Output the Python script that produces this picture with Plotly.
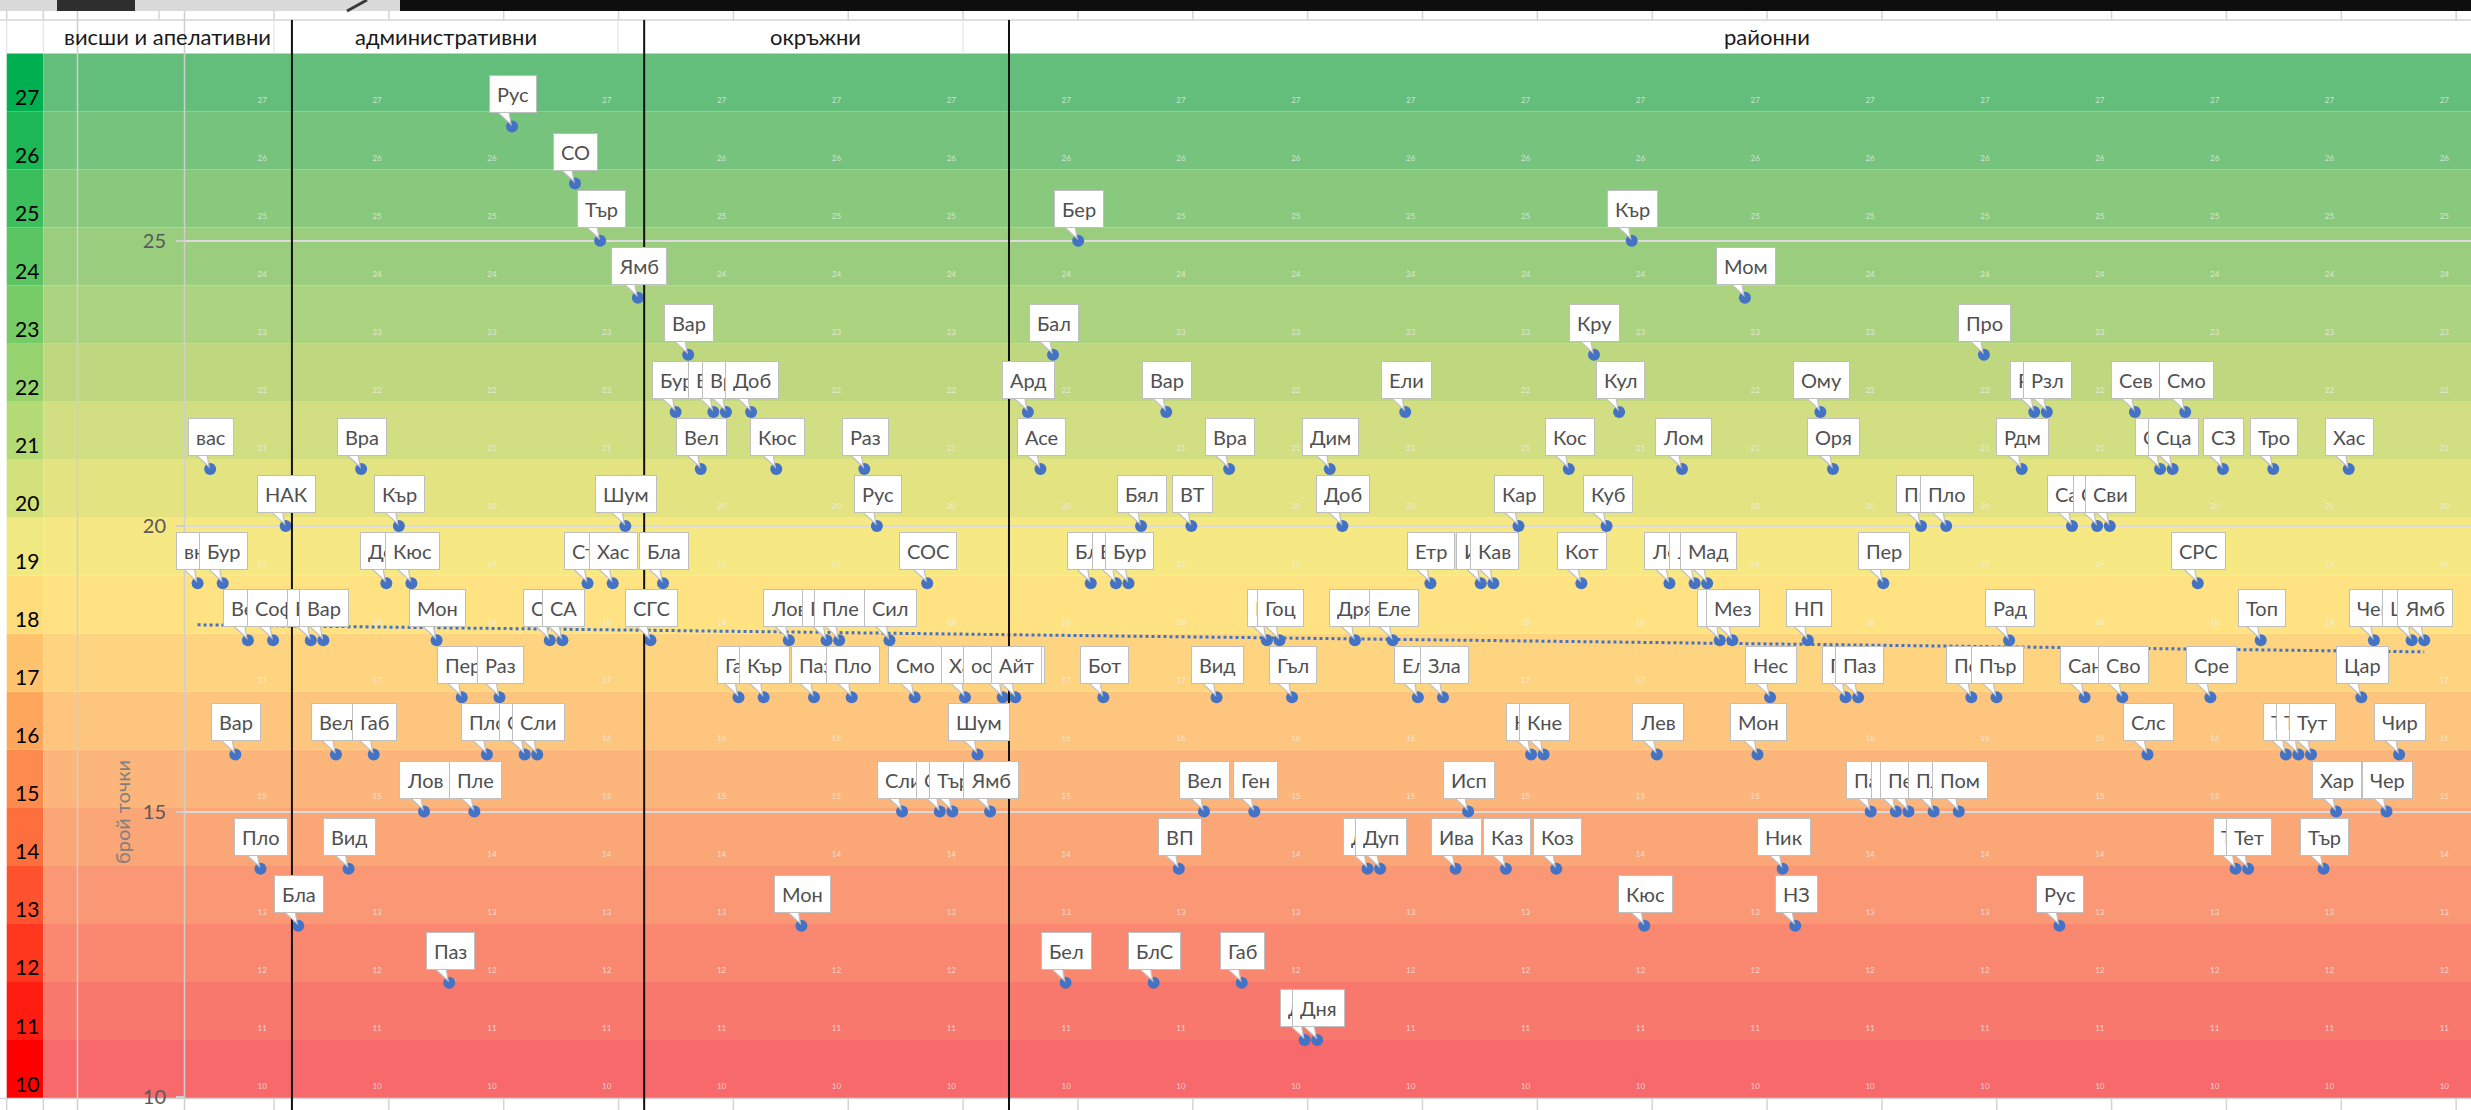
import numpy as np
import plotly.graph_objects as go

# ---------------- DATA ----------------
category_names = ["висши и апелативни", "административни", "окръжни", "районни"]

supreme_labels = ["вкс", "вас", "Бур", "Вар", "Вел", "Пло", "Соф", "НАК"]
supreme_values = [19, 21, 19, 16, 18, 14, 18, 20]

admin_labels = ["Бла", "Бур", "Вар", "Вел", "Вид", "Вра", "Габ", "Доб", "Кър", "Кюс",
                "Лов", "Мон", "Паз", "Пер", "Пле", "Пло", "Раз", "Рус", "Сил", "Сли",
                "Смо", "СА", "СО", "Ста", "Тър", "Хас", "Шум", "Ямб"]
admin_values = [13, 18, 18, 16, 14, 21, 16, 19, 20, 19,
                15, 18, 12, 17, 15, 16, 17, 27, 16, 16,
                18, 18, 26, 19, 25, 19, 20, 24]

district_labels = ["СГС", "Бла", "Бур", "Вар", "Вел", "Вид", "Вра", "Габ", "Доб", "Кър",
                   "Кюс", "Лов", "Мон", "Паз", "Пер", "Пле", "Пло", "Раз", "Рус", "Сил",
                   "Сли", "Смо", "СОС", "Ста", "Тър", "Хас", "Шум", "Ямб", "ос"]
district_values = [18, 19, 22, 23, 21, 22, 22, 17, 22, 17,
                   21, 18, 13, 17, 18, 18, 17, 21, 20, 18,
                   15, 17, 19, 15, 15, 17, 16, 15, 17]

regional_labels = ["Айт", "Ард", "Асе", "Бал", "Бел", "Бер", "Бла", "Бот", "Бре", "Бур",
                   "Бял", "БлС", "Вар", "ВП", "ВТ", "Вел", "Вид", "Вра", "Габ", "Ген",
                   "ГО", "Гоц", "Гъл", "Дев", "Дня", "Дим", "Доб", "Дря", "Дул", "Дуп",
                   "Еле", "Ели", "Елх", "Етр", "Зла", "Ива", "Исп", "Ихт", "Кав", "Каз",
                   "Кар", "Крн", "Кне", "Коз", "Кос", "Кот", "Кру", "Куб", "Кул", "Кър",
                   "Кюс", "Лев", "Лов", "Лом", "Лук", "Мад", "МТ", "Мез", "Мом", "Мон",
                   "Нес", "Ник", "НЗ", "НП", "Ому", "Оря", "Пав", "Паз", "Пан", "Пер",
                   "Пет", "Пещ", "Пир", "Пле", "Пло", "Пом", "Поп", "Про", "Пър", "Рад",
                   "Рдм", "Рдн", "Рзл", "Рус", "Сам", "Сан", "Свл", "Сви", "Сво", "Сев",
                   "Слс", "Сли", "Сца", "Смо", "СРС", "Сре", "СЗ", "Тер", "Тет", "Топ",
                   "Тро", "Трн", "Трв", "Тут", "Тър", "Хар", "Хас", "Цар", "Чеп", "Чер",
                   "Чир", "Шум", "Ямб"]
regional_values = [17, 22, 21, 23, 12, 25, 19, 17, 19, 19,
                   20, 12, 22, 14, 20, 15, 17, 21, 12, 15,
                   18, 18, 17, 11, 11, 21, 20, 18, 14, 14,
                   18, 22, 17, 19, 17, 14, 15, 19, 19, 14,
                   20, 16, 16, 14, 21, 19, 23, 20, 22, 25,
                   13, 16, 19, 21, 19, 19, 18, 18, 24, 16,
                   17, 14, 13, 18, 22, 21, 17, 17, 15, 19,
                   15, 15, 20, 15, 20, 15, 17, 23, 17, 18,
                   21, 22, 22, 13, 20, 17, 20, 20, 17, 22,
                   16, 21, 21, 22, 19, 17, 21, 14, 14, 18,
                   21, 16, 16, 16, 14, 15, 21, 17, 18, 15,
                   16, 18, 18]

band_levels = list(range(10, 28))
y_tick_values = [10, 15, 20, 25]
axis_title = "брой точки"

# ---------------- GEOMETRY / STYLE ----------------
W, H = 2471, 1110
ML, MR, MT, MB = 185, 0, 54, 13
PW, PH = W - ML - MR, H - MT - MB
X_STEP = 12.58          # px per point index
Y_UNIT = 57.09          # px per score point
X_RANGE = [-1, -1 + PW / X_STEP]
Y_RANGE = [10, 10 + PH / Y_UNIT]
ROW_TOP0, ROW_H = 53.5, 58.03

def pxx(px):
    return (px - ML) / PW

def pxy(py):
    return (H - MB - py) / PH

def data_to_px(xv, yv):
    return ML + (xv - X_RANGE[0]) * X_STEP, MT + (Y_RANGE[1] - yv) * Y_UNIT

def hex2rgb(h):
    h = h.lstrip("#")
    return tuple(int(h[i:i + 2], 16) for i in (0, 2, 4))

def lerp(c1, c2, t):
    a, b = hex2rgb(c1), hex2rgb(c2)
    return "rgb(%d,%d,%d)" % tuple(round(a[i] + (b[i] - a[i]) * t) for i in range(3))

def three_scale(v, cmin, cmid, cmax, vmin=10, vmax=27):
    mid = (vmin + vmax) / 2
    if v <= mid:
        return lerp(cmin, cmid, (v - vmin) / (mid - vmin))
    return lerp(cmid, cmax, (v - mid) / (vmax - mid))

def row_top(k):
    return ROW_TOP0 + (27 - k) * ROW_H

labels = supreme_labels + admin_labels + district_labels + regional_labels
values = supreme_values + admin_values + district_values + regional_values
xs = list(range(len(labels)))
counts = [len(supreme_labels), len(admin_labels), len(district_labels), len(regional_labels)]

shapes = []
annotations = []
GRID = "#D4D4D4"

# top strip (screenshot residue)
shapes.append(dict(type="rect", xref="paper", yref="paper", x0=pxx(0), x1=pxx(400),
                   y0=pxy(11), y1=pxy(0), fillcolor="#DADADA", line=dict(width=0), layer="below"))
shapes.append(dict(type="rect", xref="paper", yref="paper", x0=pxx(57), x1=pxx(135),
                   y0=pxy(11), y1=pxy(0), fillcolor="#2E2E2E", line=dict(width=0), layer="below"))
shapes.append(dict(type="line", xref="paper", yref="paper", x0=pxx(347), x1=pxx(367),
                   y0=pxy(11), y1=pxy(0), line=dict(color="#3A3A3A", width=3), layer="below"))
shapes.append(dict(type="rect", xref="paper", yref="paper", x0=pxx(400), x1=pxx(W),
                   y0=pxy(11), y1=pxy(0), fillcolor="#0E0E0E", line=dict(width=0), layer="below"))

# colour bands (Excel cells)
for k in band_levels:
    y0, y1 = pxy(row_top(k) + ROW_H), pxy(row_top(k))
    shapes.append(dict(type="rect", xref="paper", yref="paper", x0=pxx(6.7), x1=pxx(43.3),
                       y0=y0, y1=y1, line=dict(width=0), layer="below",
                       fillcolor=three_scale(k, "#FF0000", "#FFEB84", "#00B050")))
    shapes.append(dict(type="rect", xref="paper", yref="paper", x0=pxx(43.3), x1=pxx(W),
                       y0=y0, y1=y1, line=dict(width=0), layer="below",
                       fillcolor=three_scale(k, "#F8696B", "#FFEB84", "#63BE7B")))
    annotations.append(dict(xref="paper", yref="paper", x=pxx(41), y=pxy(row_top(k) + ROW_H - 15),
                            text=str(k), showarrow=False, xanchor="right", yanchor="middle",
                            font=dict(family="Lato", size=21, color="#000000")))

# spreadsheet cell lines
col_lines = [274 + 114.85 * i for i in range(20)]
shapes.append(dict(type="line", xref="paper", yref="paper", x0=pxx(0), x1=pxx(W),
                   y0=pxy(20), y1=pxy(20), line=dict(color=GRID, width=1.5), layer="below"))
shapes.append(dict(type="line", xref="paper", yref="paper", x0=pxx(0), x1=pxx(W),
                   y0=pxy(1098.5), y1=pxy(1098.5), line=dict(color=GRID, width=1.5), layer="below"))
for px in [6.7, 43.3, 159] + col_lines:
    shapes.append(dict(type="line", xref="paper", yref="paper", x0=pxx(px), x1=pxx(px),
                       y0=pxy(20), y1=pxy(11), line=dict(color=GRID, width=1.5), layer="below"))
for px in [6.7, 43.3, 274, 618, 963]:
    shapes.append(dict(type="line", xref="paper", yref="paper", x0=pxx(px), x1=pxx(px),
                       y0=pxy(53.5), y1=pxy(20), line=dict(color="#E4E4E4", width=1.2), layer="below"))
for px in [6.7, 43.3] + col_lines:
    shapes.append(dict(type="line", xref="paper", yref="paper", x0=pxx(px), x1=pxx(px),
                       y0=pxy(H), y1=pxy(1098.5), line=dict(color=GRID, width=1.5), layer="below"))
for px in [77.5, 184.5]:
    shapes.append(dict(type="line", xref="paper", yref="paper", x0=pxx(px), x1=pxx(px),
                       y0=pxy(H), y1=pxy(11), line=dict(color="#CFCFCF", width=1.5), layer="below"))

# category separators
b = -0.5
for c in counts[:-1]:
    b += c
    shapes.append(dict(type="line", xref="x", yref="paper", x0=b, x1=b,
                       y0=pxy(H), y1=pxy(20), line=dict(color="#111111", width=2), layer="above"))

# category headers
header_px = [167, 446, 815, 1767]
for name, px in zip(category_names, header_px):
    annotations.append(dict(xref="paper", yref="paper", x=pxx(px), y=pxy(37), text=name,
                            showarrow=False, xanchor="center", yanchor="middle",
                            font=dict(family="Lato", size=22, color="#1A1A1A")))

# axis title
annotations.append(dict(xref="paper", yref="paper", x=pxx(122), y=pxy(812), text=axis_title,
                        showarrow=False, textangle=-90, xanchor="center", yanchor="middle",
                        font=dict(family="Lato", size=20, color="#7F7F7F")))

# callouts
tail_path = "M -14,14 L -1,2 L -3,14 Z"
special_width = {"ос": 66}
label_boxes = []
for xi, yi, lab in zip(xs, values, labels):
    shapes.append(dict(type="path", xref="x", yref="y", xsizemode="pixel", ysizemode="pixel",
                       xanchor=xi, yanchor=yi, path=tail_path, fillcolor="white",
                       line=dict(color="#BFBFBF", width=1.2), layer="above"))
    ann = dict(x=xi, y=yi, xref="x", yref="y", text=lab, showarrow=False,
               xanchor="center", yanchor="bottom", xshift=1, yshift=13,
               height=22, valign="middle",
               bgcolor="white", bordercolor="#BFBFBF", borderwidth=1, borderpad=7,
               font=dict(family="Lato", size=20, color="#505050"))
    half = 27
    if lab in special_width:
        ann["width"] = special_width[lab]
        ann["align"] = "left"
        half = 41
    annotations.append(ann)
    cxp, cyp = data_to_px(xi, yi)
    label_boxes.append((cxp + 1 - half, cxp + 1 + half, cyp - 13 - 40, cyp))

fig = go.Figure()

# faint cell contents of the spreadsheet behind the chart (hidden where a label box covers them)
cell_px = [152 + 114.85 * i for i in range(21)]
cx, cy, ct = [], [], []
for k in band_levels:
    py = row_top(k) + ROW_H - 11
    for px in cell_px:
        covered = any(x0 - 2 < px and px - 12 < x1 + 2 and y0 - 2 < py + 5 and py - 5 < y1 + 2
                      for (x0, x1, y0, y1) in label_boxes)
        if covered:
            continue
        cx.append(-1 + (px - ML) / X_STEP)
        cy.append(10 + (H - MB - py) / Y_UNIT)
        ct.append(str(k))
fig.add_trace(go.Scatter(x=cx, y=cy, text=ct, mode="text", textposition="middle left",
                         textfont=dict(family="Lato", size=8, color="rgba(240,240,240,0.75)"),
                         hoverinfo="skip", cliponaxis=False, showlegend=False))

# linear trendline
coef = np.polyfit(xs, values, 1)
xt = [xs[0], xs[-1]]
fig.add_trace(go.Scatter(x=xt, y=list(np.polyval(coef, xt)), mode="lines",
                         line=dict(color="#4472C4", width=3, dash="dot"),
                         hoverinfo="skip", showlegend=False))

# points
fig.add_trace(go.Scatter(x=xs, y=values, mode="markers", text=labels,
                         marker=dict(size=12, color="#4472C4", line=dict(width=0)),
                         showlegend=False))

fig.update_layout(
    width=W, height=H, autosize=False,
    margin=dict(l=ML, r=MR, t=MT, b=MB, pad=0),
    paper_bgcolor="white", plot_bgcolor="rgba(0,0,0,0)",
    shapes=shapes, annotations=annotations, showlegend=False,
    xaxis=dict(range=X_RANGE, visible=False, fixedrange=True),
    yaxis=dict(range=Y_RANGE, tickvals=y_tick_values, showgrid=True, gridcolor="#DCDCDC",
               gridwidth=1.5, zeroline=False, showline=False, ticks="outside", ticklen=8,
               tickcolor="#D0D0D0", tickwidth=1.5, ticklabelstandoff=6,
               tickfont=dict(family="Lato", size=20, color="#595959"), fixedrange=True),
    font=dict(family="Lato"),
)

fig.write_html("out.html", config={"displayModeBar": False},
               post_script="document.body.style.margin='0';document.body.style.overflow='hidden';")
